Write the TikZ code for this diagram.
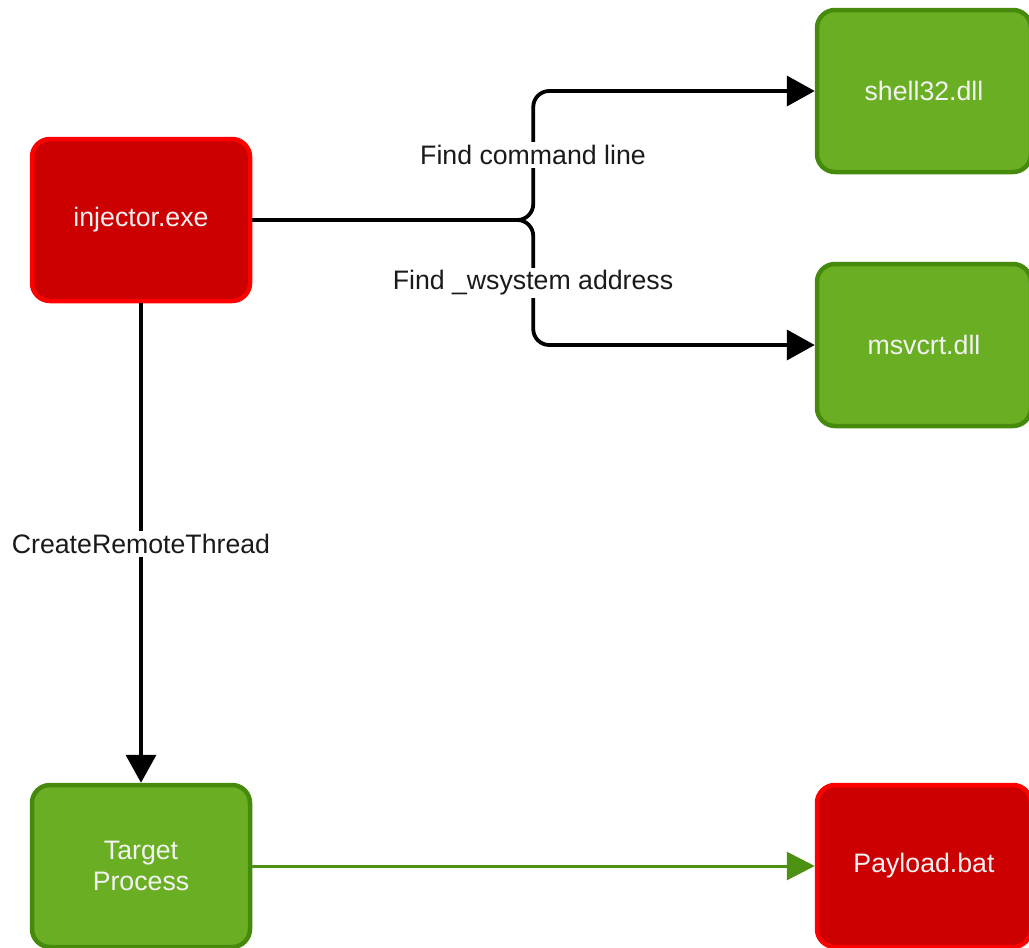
\documentclass[tikz,border=0pt]{standalone}
\usepackage{fontspec}
\setmainfont{Liberation Sans}
\usetikzlibrary{arrows.meta}
\definecolor{redfill}{HTML}{CC0000}
\definecolor{redline}{HTML}{FF0000}
\definecolor{greenfill}{HTML}{6AAF23}
\definecolor{greenline}{HTML}{468A0C}
\definecolor{txt}{HTML}{F2F2F2}
\definecolor{edgegreen}{HTML}{4D9112}
\definecolor{lbltxt}{HTML}{1A1A1A}
\begin{document}
\begin{tikzpicture}[x=1pt,y=-1pt,
 box/.style={rectangle, rounded corners=18pt, line width=4.5pt, minimum width=218pt, minimum height=162pt, text=txt, font=\fontsize{26.7}{31}\selectfont, align=center, inner sep=0pt},
 redbox/.style={box, fill=redfill, draw=redline},
 greenbox/.style={box, fill=greenfill, draw=greenline},
 conn/.style={line width=3.8pt, -{Triangle[length=28pt,width=30pt]}, rounded corners=16pt},
 gconn/.style={line width=3pt, draw=edgegreen, -{Triangle[length=28pt,width=28pt, fill=edgegreen]}},
 lbl/.style={fill=white, text=lbltxt, font=\fontsize{26.7}{31}\selectfont, inner sep=3pt}]
\useasboundingbox (0,0) rectangle (1029,948);
\node[redbox] (inj) at (141,220) {injector.exe};
\node[greenbox, minimum width=214pt] (sh) at (924,91) {shell32.dll};
\node[greenbox, minimum width=214pt] (ms) at (924,345) {msvcrt.dll};
\node[greenbox] (tp) at (141,866) {Target\\Process};
\node[redbox, minimum width=214pt] (pb) at (924,866) {Payload.bat};
\draw[conn] (inj.east) -- ++(281,0) |- (sh.west);
\draw[conn] (inj.east) -- ++(281,0) |- (ms.west);
\draw[conn] (inj.south) -- (tp.north);
\draw[gconn] (tp.east) -- (pb.west);
\node[lbl] (l1) at (533,155) {Find command line};
\node[lbl] (l2) at (533,283) {Find \_wsystem address};
\node[lbl] (l3) at (141,544) {CreateRemoteThread};
\end{tikzpicture}
\end{document}
